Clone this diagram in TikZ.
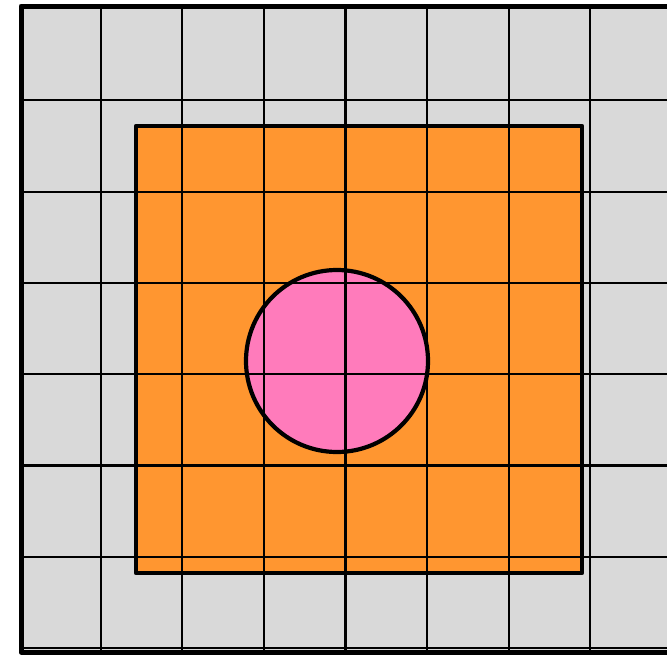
\documentclass[tikz,border=0pt]{standalone}
\definecolor{cellgray}{RGB}{217,217,217}
\definecolor{boxorange}{RGB}{255,150,48}
\definecolor{discpink}{RGB}{255,123,187}
\begin{document}
\begin{tikzpicture}[x=1pt, y=-1pt, line join=round, line cap=butt]
	\def\xo{19} \def\dx{81.6} % grid origin and step
	\def\yo{9} \def\dy{91.3}
	\useasboundingbox (0,0) rectangle (667,656);
	\fill[cellgray] (\xo,\yo) rectangle (667,650);
	\fill[boxorange] (136,126) rectangle (582,573);
	\fill[discpink] (337,361) circle (91);
	\foreach \i in {1,...,7} \draw[line width=2.2] (\xo+\i*\dx,\yo) -- (\xo+\i*\dx,650);
	\foreach \j in {1,...,7} \draw[line width=2.2] (\xo,\yo+\j*\dy) -- (667,\yo+\j*\dy);
	\draw[line width=4.2] (136,126) rectangle (582,573);
	\draw[line width=4.2] (337,361) circle (91);
	\draw[line width=5] (667,6) -- (21,6) -- (21,652) -- (667,652);
\end{tikzpicture}
\end{document}
